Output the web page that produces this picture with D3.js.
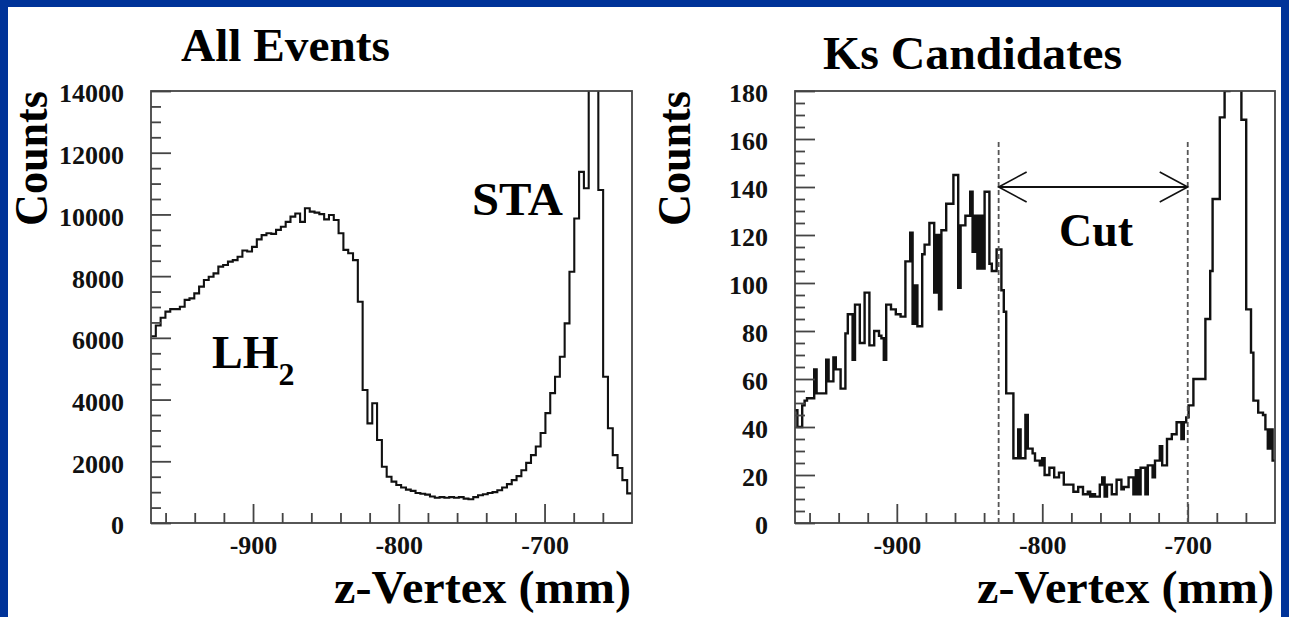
<!DOCTYPE html>
<html><head><meta charset="utf-8">
<script src="https://cdn.jsdelivr.net/npm/d3@7"></script>
<style>
html,body{margin:0;padding:0;background:#003399;}
svg{display:block;}
</style>
</head><body>
<svg id="c" width="1289" height="617"></svg>
<script>
// ---------- data ----------
const zRange = [-970, -640];                    // z-Vertex range (mm)
const xMajorTicks = [-900, -800, -700];
const xMinorTicks = [-960, -940, -920, -880, -860, -840, -820, -780, -760, -740, -720, -680, -660];

// All Events: 100 bins of 3.3 mm
const allEventsCounts = [
  6050, 6400, 6650, 6850, 6930, 6930, 7010, 7230, 7280, 7440,
  7660, 7875, 7980, 8090, 8310, 8360, 8470, 8520, 8630, 8830,
  8800, 8950, 9190, 9330, 9390, 9370, 9500, 9600, 9760, 9930,
  10030, 9760, 10200, 10090, 10060, 10010, 9840, 9980, 9820, 9390,
  8850, 8740, 8520, 7170, 4310, 3230, 3880, 2690, 1825, 1500,
  1340, 1230, 1150, 1080, 1040, 970, 950, 920, 860, 820,
  840, 820, 840, 820, 840, 790, 770, 840, 900, 930,
  970, 1000, 1060, 1150, 1260, 1390, 1520, 1710, 1950, 2200,
  2480, 2915, 3560, 4210, 4740, 5390, 6470, 8140, 9870, 11380,
  10850, 22000, 25000, 10790, 4740, 3070, 2200, 1780, 1390, 960
];
const allTicksY = [0, 2000, 4000, 6000, 8000, 10000, 12000, 14000];
const allMinorStep = 500;
const allMax = 14000;

// Ks Candidates: 200 bins of 1.65 mm
const ksCounts = [
  47, 40, 40, 49, 51, 52, 52, 52, 64, 54,
  54, 54, 54, 68, 59, 59, 69, 64, 64, 56,
  56, 79, 87, 87, 68, 91, 91, 75, 75, 96,
  96, 74, 74, 80, 80, 78, 77, 68, 91, 91,
  89, 89, 87, 87, 86, 86, 109, 109, 121, 83,
  99, 82, 82, 112, 116, 116, 125, 125, 96, 120,
  89, 122, 122, 133, 133, 133, 145, 145, 98, 124,
  124, 128, 128, 138, 113, 128, 106, 128, 106, 138,
  138, 108, 105, 105, 114, 114, 97, 88, 54, 54,
  54, 27, 27, 39, 27, 27, 45, 31, 31, 29,
  26, 26, 24, 27, 20, 20, 23, 23, 19, 19,
  21, 21, 16, 16, 16, 16, 13, 13, 15, 15,
  12, 12, 13, 11, 12, 11, 11, 16, 19, 11,
  16, 16, 12, 12, 18, 18, 14, 15, 15, 19,
  19, 12, 22, 12, 23, 23, 12, 24, 24, 19,
  26, 26, 32, 24, 24, 35, 35, 37, 37, 42,
  42, 35, 42, 44, 49, 49, 60, 60, 60, 60,
  60, 85, 85, 105, 135, 135, 135, 169, 169, 180,
  180, 230, 260, 260, 240, 200, 168, 168, 89, 89,
  71, 51, 51, 46, 46, 45, 39, 31, 39, 26
];
const ksTicksY = [0, 20, 40, 60, 80, 100, 120, 140, 160, 180];
const ksMinorStep = 5;
const ksMax = 180;

const cutEdges = [-830, -700];
const cutArrowLevel = 140;
const cutLineTop = 160;

const titles = ["All Events", "Ks Candidates"];
const yTitle = "Counts";
const xTitle = "z-Vertex (mm)";

// ---------- drawing ----------
const svg = d3.select("#c");
svg.append("rect").attr("x", 8).attr("y", 7).attr("width", 1273).attr("height", 610).attr("fill", "#ffffff");

const SERIF = "'Liberation Serif','Times New Roman',serif";
const fmt = d => String(d);

function panel(opt) {
  const {left, right, top, bottom, counts, yMax, yTicks, minorStep, id, lw} = opt;
  const x = d3.scaleLinear().domain(zRange).range([left, right]);
  const y = d3.scaleLinear().domain([0, yMax]).range([bottom, top]);
  const g = svg.append("g");

  g.append("clipPath").attr("id", id).append("rect")
    .attr("x", left).attr("y", top).attr("width", right - left).attr("height", bottom - top);

  // histogram outline
  const n = counts.length;
  const w = (zRange[1] - zRange[0]) / n;
  const pts = [];
  counts.forEach((v, i) => { pts.push([zRange[0] + i * w, v]); pts.push([zRange[0] + (i + 1) * w, v]); });
  const line = d3.line().x(d => x(d[0])).y(d => y(d[1]));
  g.append("path").attr("d", line(pts)).attr("fill", "none").attr("stroke", "#111")
    .attr("stroke-width", lw).attr("clip-path", `url(#${id})`);

  // x axis (ticks pointing up)
  const xMaj = d3.axisBottom(x).tickValues(xMajorTicks).tickSizeInner(-19).tickSizeOuter(0).tickPadding(13).tickFormat(fmt);
  const xMin = d3.axisBottom(x).tickValues(xMinorTicks).tickSizeInner(-10).tickSizeOuter(0).tickFormat("");
  const gxm = g.append("g").attr("transform", `translate(0,${bottom})`).call(xMin);
  const gx = g.append("g").attr("transform", `translate(0,${bottom})`).call(xMaj);
  // y axis (ticks pointing right)
  const minorVals = d3.range(0, yMax + 1e-9, minorStep).filter(v => !yTicks.includes(v));
  const yMaj = d3.axisLeft(y).tickValues(yTicks).tickSizeInner(-20).tickSizeOuter(0).tickPadding(27).tickFormat(fmt);
  const yMin = d3.axisLeft(y).tickValues(minorVals).tickSizeInner(-10).tickSizeOuter(0).tickFormat("");
  const gym = g.append("g").attr("transform", `translate(${left},0)`).call(yMin);
  const gy = g.append("g").attr("transform", `translate(${left},0)`).call(yMaj);

  [gx, gxm, gy, gym].forEach(a => {
    a.select(".domain").remove();
    a.selectAll("line").attr("stroke", "#444").attr("stroke-width", 1.8);
    a.selectAll("text").attr("font-family", SERIF).attr("font-weight", "bold")
      .attr("font-size", 26).attr("fill", "#111");
  });
  gy.selectAll("text").attr("dy", "0.42em");
  gx.selectAll("text").attr("dy", "0.71em");

  // frame
  g.append("rect").attr("x", left).attr("y", top).attr("width", right - left).attr("height", bottom - top)
    .attr("fill", "none").attr("stroke", "#444").attr("stroke-width", 1.8);

  return {x, y, g};
}

const L = panel({left: 151, right: 632, top: 91, bottom: 523, counts: allEventsCounts, yMax: allMax,
  yTicks: allTicksY, minorStep: allMinorStep, id: "clipL", lw: 2.1});
const R = panel({left: 795, right: 1275, top: 91, bottom: 523, counts: ksCounts, yMax: ksMax,
  yTicks: ksTicksY, minorStep: ksMinorStep, id: "clipR", lw: 2.4});

function bigText(x, y, txt, size, len, anchor, rot) {
  const t = svg.append("text").attr("font-family", SERIF).attr("font-weight", "bold")
    .attr("font-size", size).attr("fill", "#000").text(txt)
    .attr("text-anchor", anchor || "start");
  if (len) t.attr("textLength", len).attr("lengthAdjust", "spacingAndGlyphs");
  if (rot) t.attr("transform", `translate(${x},${y}) rotate(-90)`);
  else t.attr("x", x).attr("y", y);
  return t;
}

// titles
bigText(181, 61, titles[0], 47, 209);
bigText(823, 69, titles[1], 47, 299);
// axis titles
bigText(47, 91, yTitle, 47, 135, "end", true);
bigText(690, 91, yTitle, 47, 135, "end", true);
bigText(631, 603, xTitle, 46, 297, "end");
bigText(1274, 603, xTitle, 46, 297, "end");

// annotations
const lh = svg.append("text").attr("x", 212).attr("y", 368).attr("font-family", SERIF)
  .attr("font-weight", "bold").attr("font-size", 46).attr("fill", "#000");
lh.append("tspan").text("LH");
lh.append("tspan").attr("font-size", 32).attr("dy", 17).text("2");
bigText(472, 215, "STA", 46, 91);
bigText(1059, 246, "Cut", 46, 74);

// cut lines
cutEdges.forEach(v => {
  R.g.append("line").attr("x1", R.x(v)).attr("x2", R.x(v)).attr("y1", R.y(0)).attr("y2", R.y(cutLineTop))
    .attr("stroke", "#555").attr("stroke-width", 1.8).attr("stroke-dasharray", "5,3");
});
const ay = R.y(cutArrowLevel);
const ax1 = R.x(cutEdges[0]), ax2 = R.x(cutEdges[1]);
R.g.append("line").attr("x1", ax1).attr("x2", ax2).attr("y1", ay).attr("y2", ay)
  .attr("stroke", "#111").attr("stroke-width", 2);
const head = d3.line();
R.g.append("path").attr("d", head([[ax1 + 28, ay - 15], [ax1, ay], [ax1 + 28, ay + 15]]))
  .attr("fill", "none").attr("stroke", "#111").attr("stroke-width", 1.6);
R.g.append("path").attr("d", head([[ax2 - 28, ay - 15], [ax2, ay], [ax2 - 28, ay + 15]]))
  .attr("fill", "none").attr("stroke", "#111").attr("stroke-width", 1.6);
</script>
</body></html>
